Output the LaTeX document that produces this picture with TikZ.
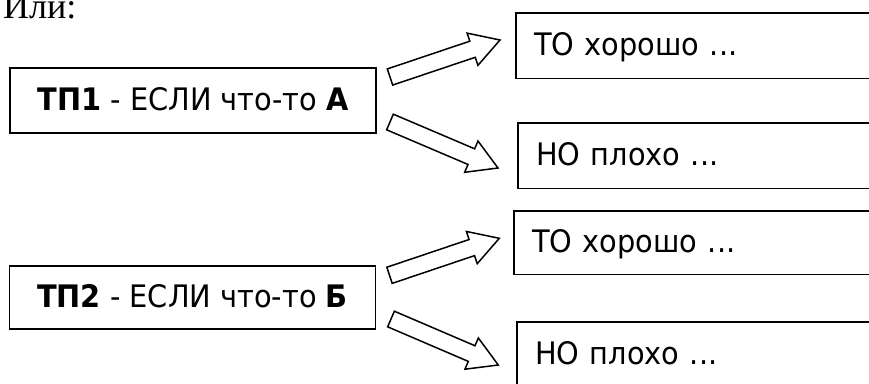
\documentclass[tikz,border=0pt]{standalone}
\usepackage{fontspec}
\setmainfont[FakeStretch=0.93]{DejaVu Sans}
\newfontfamily\serifcyr{Liberation Serif}
\usetikzlibrary{calc}
\tikzset{
  box/.style={draw, line width=1.6pt, rectangle, inner sep=0pt, font=\fontsize{31}{36}\selectfont},
  leftbox/.style={rectangle, inner sep=0pt, font=\fontsize{31}{36}\selectfont, anchor=north west,
    text width=300pt, inner xsep=18pt, align=left,
    minimum height=65pt, text height=26pt, text depth=6.6pt},
  openedge/.style={draw, line width=1.6pt, line join=miter},
  condbox/.style={box, minimum width=366pt, minimum height=65pt, text height=26pt, text depth=5.4pt},
  barrow/.style={draw, line width=1.5pt, line join=miter, fill=white}
}
\newcommand\blockarr[2]{%
  \path[barrow] let \p1=(#1), \p2=(#2),
    \n1={atan2(\y2-\y1,\x2-\x1)}, \n2={veclen(\x2-\x1,\y2-\y1)} in
    ([shift={(\p1)},rotate=\n1]0pt,-8.5pt) --
    ([shift={(\p1)},rotate=\n1]\n2-29pt,-8.5pt) --
    ([shift={(\p1)},rotate=\n1]\n2-29pt,-17pt) --
    ([shift={(\p1)},rotate=\n1]\n2,0pt) --
    ([shift={(\p1)},rotate=\n1]\n2-29pt,17pt) --
    ([shift={(\p1)},rotate=\n1]\n2-29pt,8.5pt) --
    ([shift={(\p1)},rotate=\n1]0pt,8.5pt) -- cycle;}
\newcommand\openbox[1]{%
  \path[openedge] ([xshift=20pt]#1.north east) -- (#1.north west) -- (#1.south west) -- ([xshift=20pt]#1.south east);}
\begin{document}
\begin{tikzpicture}[x=1pt, y=-1pt]
\useasboundingbox (0,0) rectangle (869,383);
\clip (0,0) rectangle (869,383);
\node[anchor=base west, inner sep=0pt, font=\serifcyr\fontsize{36}{40}\selectfont] (title) at (3,18) {Или:};

\node[condbox] (tp1) at (193,100.5) {\textbf{ТП1} - ЕСЛИ что-то \textbf{А}};
\node[leftbox] (to1) at (516,13) {ТО хорошо ...};
\node[leftbox] (ho1) at (518,123) {НО плохо ...};

\node[condbox, minimum height=63pt] (tp2) at (192.5,297.5) {\textbf{ТП2} - ЕСЛИ что-то \textbf{Б}};
\node[leftbox, minimum height=63pt] (to2) at (514,211) {ТО хорошо ...};
\node[leftbox] (ho2) at (517,322) {НО плохо ...};

\openbox{to1}
\openbox{ho1}
\openbox{to2}
\openbox{ho2}

\coordinate (a1s) at (390,77);    \coordinate (a1e) at (500,40);
\coordinate (a2s) at (390,122);   \coordinate (a2e) at (498,168);
\coordinate (a3s) at (389.5,275.3); \coordinate (a3e) at (499.3,238.3);
\coordinate (a4s) at (391,319);   \coordinate (a4e) at (498.3,365);

\blockarr{a1s}{a1e}
\blockarr{a2s}{a2e}
\blockarr{a3s}{a3e}
\blockarr{a4s}{a4e}
\end{tikzpicture}
\end{document}
